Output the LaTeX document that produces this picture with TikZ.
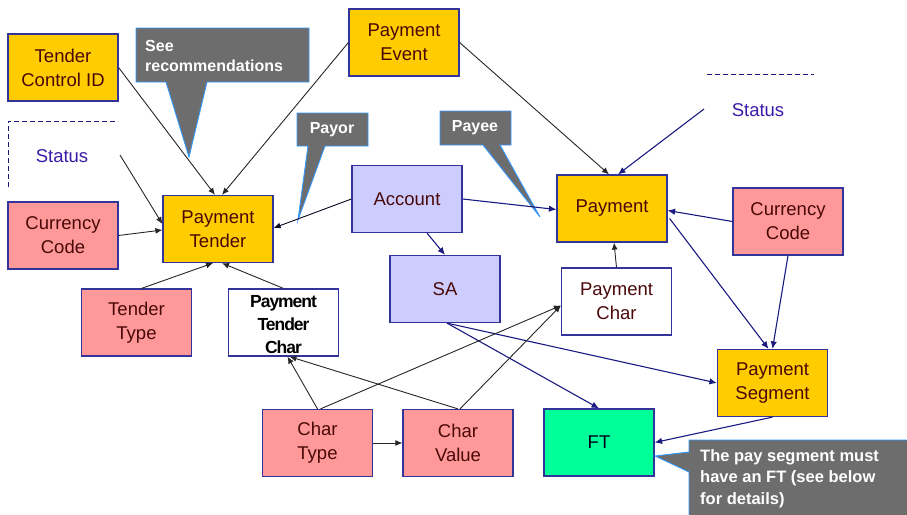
\documentclass[tikz,border=0pt]{standalone}
\usepackage{fontspec}
\setmainfont{Liberation Sans}
\usetikzlibrary{arrows.meta,calc}
\definecolor{ybox}{HTML}{FFCC00}
\definecolor{pbox}{HTML}{FF9999}
\definecolor{lbox}{HTML}{CCCCFF}
\definecolor{gbox}{HTML}{00FF99}
\definecolor{boxline}{HTML}{333399}
\definecolor{boxtext}{HTML}{4A0808}
\definecolor{navyline}{HTML}{1A1A80}
\definecolor{calloutfill}{HTML}{6D6D6D}
\definecolor{calloutline}{HTML}{3399FF}
\definecolor{statustext}{HTML}{3A1AA8}
\begin{document}
\begin{tikzpicture}[x=1pt,y=-1pt,
  box/.style={draw=boxline, line width=1.2pt, minimum width=110pt, minimum height=67pt,
    inner sep=0pt, align=center, font=\fontsize{18.5}{24}\selectfont, text=boxtext},
  blk/.style={-{Latex[length=7pt,width=6pt]}, line width=0.9pt, draw=black!85},
  nav/.style={-{Latex[length=7.5pt,width=6.5pt]}, line width=1.1pt, draw=navyline},
  callout/.style={fill=calloutfill, draw=calloutline, line width=0.9pt},
  callouttext/.style={text=white, font=\bfseries\fontsize{16}{21}\selectfont, inner sep=0pt},
  statusline/.style={draw=navyline, line width=1pt, dash pattern=on 5pt off 3pt},
  statuslabel/.style={text=statustext, font=\fontsize{18.5}{24}\selectfont, inner sep=0pt}
]
\useasboundingbox (0,0) rectangle (907,514);

% callouts (behind)
\path[callout] (136,28) -- (309,28) -- (309,82) -- (207,82) -- (189,157) -- (166,82) -- (136,82) -- cycle;
\node[callouttext, anchor=west, align=left] (seerec) at (145,56) {See\\[-1pt]recommendations};

\path[callout] (297,113) -- (368,113) -- (368,146) -- (325,146) -- (298,220) -- (308,146) -- (297,146) -- cycle;
\node[callouttext] (payor) at (332,130) {Payor};

\path[callout] (440,111) -- (511,111) -- (511,145) -- (500,145) -- (540,217) -- (483,145) -- (440,145) -- cycle;
\node[callouttext] (payee) at (475,128) {Payee};

% status markers
\draw[statusline] (8,187) -- (8,121) -- (118,121);
\node[statuslabel] (statusL) at (62,156) {Status};
\coordinate (statusLc) at (120,155);
\draw[statusline] (707,74) -- (814,74);
\node[statuslabel] (statusR) at (758,110) {Status};
\coordinate (statusRc) at (704,109);

% boxes
\node[box, fill=ybox] (tcid) at (63,67.5) {Tender\\Control ID};
\node[box, fill=ybox] (pevent) at (404,42.5) {Payment\\Event};
\node[box, fill=ybox] (ptender) at (218,229) {Payment\\Tender};
\node[box, fill=lbox] (account) at (407,199) {Account};
\node[box, fill=pbox] (ccl) at (63,235.5) {Currency\\Code};
\node[box, fill=ybox] (payment) at (612,208.5) {Payment};
\node[box, fill=pbox] (ccr) at (788,221.5) {Currency\\Code};
\node[box, fill=lbox] (sa) at (445,289) {SA};
\node[box, fill=white] (pchar) at (616.5,301.5) {Payment\\Char};
\node[box, fill=ybox] (pseg) at (772.5,383) {Payment\\Segment};
\node[box, fill=pbox] (ttype) at (136.5,322.5) {Tender\\Type};
\node[box, fill=white] (ptchar) at (283.5,322.5) {};
\node[inner sep=0pt, align=center, text=black,
  font=\bfseries\addfontfeatures{LetterSpace=-6}\fontsize{17.5}{23}\selectfont] (ptcharlabel) at (283.5,325) {Payment\\Tender\\Char};
\node[box, fill=pbox] (ctype) at (317.5,443) {Char\\Type};
\node[box, fill=pbox] (cvalue) at (458,443) {Char\\Value};
\node[box, fill=gbox, text=black!90!blue] (ft) at (599,442.5) {FT};

% FT callout
\path[callout] (689,440) -- (910,440) -- (910,517) -- (689,517) -- (689,472) -- (655,456) -- (689,452) -- cycle;
\node[callouttext, anchor=north west, align=left, font=\bfseries\fontsize{16.5}{21.5}\selectfont] (ftnote) at (700,449) {The pay segment must\\have an FT (see below\\for details)};

% connectors
\draw[blk] (tcid.east) -- ($(ptender.north)+(-3,0)$);
\draw[blk] (pevent.west) -- ($(ptender.north)+(4,0)$);
\draw[blk] (statusLc) -- ($(ptender.west)+(0,-5)$);
\draw[blk] (ccl.east) -- ($(ptender.west)+(0,1)$);
\draw[blk, draw=black!75!navyline] (account.west) -- ($(ptender.east)+(0,-1)$);
\draw[blk] (pevent.east) -- ($(payment.north)+(-3,0)$);
\draw[nav] (statusRc) -- ($(payment.north)+(6,0)$);
\draw[nav] (account.east) -- ($(payment.west)+(0,1)$);
\draw[nav] (ccr.west) -- ($(payment.east)+(0,2)$);
\draw[nav] ($(payment.east)+(2,10)$) -- ($(pseg.north)+(-4,0)$);
\draw[nav] (ccr.south) -- ($(pseg.north)+(0,0)$);
\draw[nav] ($(account.south)+(20,0)$) -- (sa.north);
\draw[blk] (pchar.north) -- ($(payment.south)+(2,0)$);
\draw[nav] ($(sa.south)+(2,0)$) -- (pseg.west);
\draw[nav] ($(sa.south)+(2,0)$) -- (ft.north);
\draw[nav] (pseg.south) -- (ft.east);
\draw[blk] ($(ttype.north)+(5,0)$) -- ($(ptender.south)+(-5,0)$);
\draw[blk] (ptchar.north) -- ($(ptender.south)+(4,0)$);
\draw[blk] (ctype.east) -- (cvalue.west);
\draw[blk] (ctype.north) -- ($(ptchar.south)+(4,0)$);
\draw[blk] (cvalue.north) -- ($(ptchar.south)+(6,0)$);
\draw[blk] ($(ctype.north)+(3,0)$) -- ($(pchar.west)+(0,4)$);
\draw[blk] ($(cvalue.north)+(2,0)$) -- ($(pchar.west)+(0,4)$);
\end{tikzpicture}
\end{document}
